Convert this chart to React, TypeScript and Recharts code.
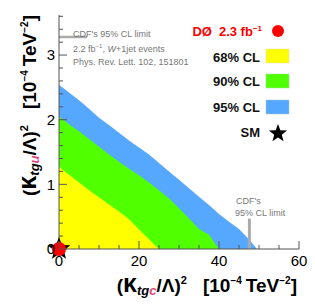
import { ComposedChart, Area, Scatter, XAxis, YAxis, ReferenceLine } from "recharts";

const xValues = [0, 2.5, 5, 7.5, 10, 12.5, 15, 17.5, 20, 22.5, 25, 27.5, 30, 32.5, 35, 37.5, 40, 42.5, 45, 47.5, 49.5];
// upper edge of each exclusion region, (κ_tgu/Λ)²
const cl95 = [2.54, 2.42, 2.3, 2.17, 2.03, 1.92, 1.8, 1.68, 1.57, 1.46, 1.33, 1.2, 1.07, 0.94, 0.81, 0.68, 0.54, 0.42, 0.31, 0.15, 0];
const cl90 = [2.05, 1.93, 1.82, 1.7, 1.58, 1.46, 1.35, 1.24, 1.14, 1.03, 0.91, 0.78, 0.63, 0.47, 0.31, 0.22, 0, 0, 0, 0, 0];
const cl68 = [1.27, 1.15, 1.03, 0.91, 0.8, 0.69, 0.58, 0.46, 0.3, 0.15, 0, 0, 0, 0, 0, 0, 0, 0, 0, 0, 0];

const xTicks = [0, 5, 10, 15, 20, 25, 30, 35, 40, 45, 50, 55, 60];
const yTicks = [0, 0.2, 0.4, 0.6, 0.8, 1, 1.2, 1.4, 1.6, 1.8, 2, 2.2, 2.4, 2.6, 2.8, 3, 3.2, 3.4, 3.6];

const smPoint = [{ x: 0, y: 0 }];
const d0Point = [{ x: 0, y: 0 }];

// CDF 95% CL limits (one per coupling)
const cdfLimitTgc = 47.6;
const cdfLimitTgu = 3.28;

const data = xValues.map((x, i) => ({ x, cl95: cl95[i], cl90: cl90[i], cl68: cl68[i] }));

const YELLOW = "#ffff00";
const GREEN = "#50ff00";
const BLUE = "#56a8ff";
const RED = "#ff0000";
const PINK = "#e0457b";
const AXIS = "#555";

const isMajor = (v: number) => Math.abs(v - Math.round(v)) < 1e-6;

function starPath(cx: number, cy: number, R: number, r: number) {
  let d = "";
  for (let i = 0; i < 10; i++) {
    const rad = i % 2 === 0 ? R : r;
    const a = -Math.PI / 2 + (i * Math.PI) / 5;
    d += (i === 0 ? "M" : "L") + (cx + rad * Math.cos(a)).toFixed(2) + "," + (cy + rad * Math.sin(a)).toFixed(2);
  }
  return d + "Z";
}

const YTick = (props: any) => {
  const { x, y, payload } = props;
  const v = payload.value;
  const major = isMajor(v);
  const ax = x + 4;
  return (
    <g>
      <line x1={ax} y1={y} x2={ax + (major ? 8 : 4)} y2={y} stroke={AXIS} strokeWidth={1} />
      {major && (
        <text x={x} y={y} dy="0.35em" textAnchor="end" fontSize={15} fill="#000">
          {v}
        </text>
      )}
    </g>
  );
};

const XTick = (props: any) => {
  const { x, y, payload } = props;
  const v = payload.value;
  const major = v % 20 === 0;
  const ay = y - 5;
  return (
    <g>
      <line x1={x} y1={ay} x2={x} y2={ay - (major ? 8 : 4)} stroke={AXIS} strokeWidth={1} />
      {major && (
        <text x={x} y={y + 12} textAnchor="middle" fontSize={15} fill="#000">
          {v}
        </text>
      )}
    </g>
  );
};

const StarShape = (props: any) => <path d={starPath(props.cx, props.cy, 12, 5)} fill="#000" />;
const DotShape = (props: any) => <circle cx={props.cx} cy={props.cy} r={7} fill={RED} />;

// "(κ_tg?/Λ)²   [10⁻⁴ TeV⁻²]"
const AxisTitle = ({ flavour }: { flavour: string }) => (
  <>
    (<tspan fontSize={25}>κ</tspan>
    <tspan dy={3} fontSize={13} fontStyle="italic">tg</tspan>
    <tspan fontSize={13} fontStyle="italic" fill={PINK}>{flavour}</tspan>
    <tspan dy={-3}>/Λ)</tspan>
    <tspan dy={-8} fontSize={11}>2</tspan>
    <tspan dy={8} dx={16}>[10</tspan>
    <tspan dy={-8} fontSize={10}>−4</tspan>
    <tspan dy={8} dx={4}>TeV</tspan>
    <tspan dy={-8} fontSize={10}>−2</tspan>
    <tspan dy={8}>]</tspan>
  </>
);

export default function App() {
  return (
    <div
      style={{
        position: "absolute",
        left: 0,
        top: 0,
        width: 315,
        height: 305,
        background: "#fff",
        fontFamily: "'Liberation Sans', Arial, sans-serif",
      }}
    >
      <ComposedChart width={315} height={305} data={data} margin={{ top: 15, right: 16, left: 0, bottom: 0 }}>
        <XAxis
          dataKey="x"
          type="number"
          domain={[0, 60]}
          ticks={xTicks}
          interval={0}
          height={56}
          tickSize={0}
          tickMargin={5}
          tick={<XTick />}
          axisLine={{ stroke: AXIS }}
          tickLine={false}
        />
        <XAxis xAxisId="top" orientation="top" type="number" domain={[0, 60]} height={0} tick={false} tickLine={false} axisLine={{ stroke: AXIS }} />
        <YAxis
          type="number"
          domain={[0, 3.62]}
          ticks={yTicks}
          interval={0}
          width={59}
          tickSize={0}
          tickMargin={4}
          tick={<YTick />}
          axisLine={{ stroke: AXIS }}
          tickLine={false}
        />
        <YAxis yAxisId="right" orientation="right" type="number" domain={[0, 3.62]} width={0} tick={false} tickLine={false} axisLine={{ stroke: AXIS }} />

        <Area type="linear" dataKey="cl95" fill={BLUE} fillOpacity={1} stroke="none" dot={false} activeDot={false} isAnimationActive={false} />
        <Area type="linear" dataKey="cl90" fill={GREEN} fillOpacity={1} stroke="none" dot={false} activeDot={false} isAnimationActive={false} />
        <Area type="linear" dataKey="cl68" fill={YELLOW} fillOpacity={1} stroke="none" dot={false} activeDot={false} isAnimationActive={false} />

        <ReferenceLine segment={[{ x: 0, y: cdfLimitTgu }, { x: 7, y: cdfLimitTgu }]} stroke="#aaa" strokeWidth={2.5} />
        <ReferenceLine segment={[{ x: cdfLimitTgc, y: 0 }, { x: cdfLimitTgc, y: 0.47 }]} stroke="#aaa" strokeWidth={3} />

        <Scatter data={smPoint} dataKey="y" shape={<StarShape />} isAnimationActive={false} />
        <Scatter data={d0Point} dataKey="y" shape={<DotShape />} isAnimationActive={false} />
      </ComposedChart>

      <svg width={315} height={305} style={{ position: "absolute", left: 0, top: 0, pointerEvents: "none" }}>
        {/* CDF annotations */}
        <g fontSize={9} fill="#777">
          <text x={73} y={37}>CDF's 95% CL limit</text>
          <text x={73} y={52}>
            2.2 fb<tspan dy={-4} fontSize={6}>−1</tspan>
            <tspan dy={4}>, </tspan>
            <tspan fontStyle="italic">W</tspan>+1jet events
          </text>
          <text x={73} y={65}>Phys. Rev. Lett. 102, 151801</text>
          <text x={236} y={204}>CDF's</text>
          <text x={235} y={216}>95% CL limit</text>
        </g>

        {/* legend */}
        <g fontSize={13} fontWeight="bold" textAnchor="end">
          <text x={262} y={36} fill={RED}>
            DØ<tspan dx={7}>2.3 fb</tspan>
            <tspan dy={-5} fontSize={8}>−1</tspan>
          </text>
          <text x={260} y={62} fill="#111">68% CL</text>
          <text x={260} y={86} fill="#111">90% CL</text>
          <text x={260} y={112} fill="#111">95% CL</text>
          <text x={260} y={137} fill="#111">SM</text>
        </g>
        <circle cx={278} cy={31} r={6} fill={RED} />
        <rect x={266} y={49} width={23} height={14} fill={YELLOW} stroke="#e0e0a0" strokeWidth={0.5} />
        <rect x={266} y={74} width={23} height={14} fill={GREEN} stroke="#a0e0a0" strokeWidth={0.5} />
        <rect x={266} y={100} width={23} height={14} fill={BLUE} stroke="#a0c0e0" strokeWidth={0.5} />
        <path d={starPath(278, 133.5, 9.5, 4)} fill="#000" />

        {/* axis titles */}
        <text x={297} y={292} textAnchor="end" fontSize={19} fontWeight="bold" fill="#000">
          <AxisTitle flavour="c" />
        </text>
        <text transform="translate(36,15) rotate(-90)" x={0} y={0} textAnchor="end" fontSize={19} fontWeight="bold" fill="#000">
          <AxisTitle flavour="u" />
        </text>
      </svg>
    </div>
  );
}
